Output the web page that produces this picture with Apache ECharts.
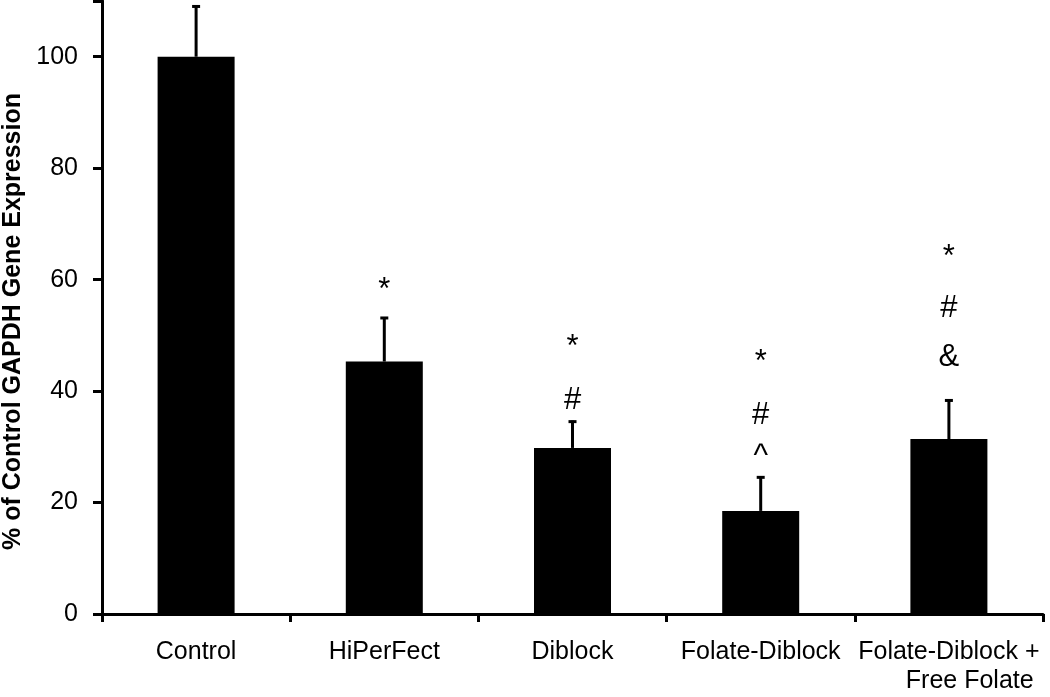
<!DOCTYPE html>
<html>
<head>
<meta charset="utf-8">
<script src="https://cdn.jsdelivr.net/npm/echarts@6/dist/echarts.min.js"></script>
<style>
  html, body { margin: 0; padding: 0; background: #fff; }
  #chart { width: 1050px; height: 697px; }
</style>
</head>
<body>
<div id="chart"></div>
<script>
  // groups on the x axis
  var categories = ['Control', 'HiPerFect', 'Diblock', 'Folate-Diblock', 'Folate-Diblock +\nFree Folate'];
  // % of control GAPDH expression, and the upper error (SD)
  var expression = [100, 45.3, 29.8, 18.5, 31.4];
  var errorUp = [9.2, 8.0, 4.9, 6.2, 7.1];
  // significance marks: category index, symbol, height on the y scale
  var markCategory = [1, 2, 2, 3, 3, 3, 4, 4, 4];
  var markSymbol = ['*', '*', '#', '*', '#', '^', '*', '#', '&'];
  var markValue = [58.0, 47.8, 38.4, 45.1, 35.7, 28.2, 63.9, 54.9, 46.1];
  var yTicks = [0, 20, 40, 60, 80, 100];

  var font = '"Liberation Sans", Arial, sans-serif';
  var chart = echarts.init(document.getElementById('chart'));

  var errData = expression.map(function (v, i) { return [i, v, v + errorUp[i]]; });
  var markData = markCategory.map(function (c, i) { return [c, markValue[i], markSymbol[i]]; });

  chart.setOption({
    animation: false,
    grid: { left: 102, right: 7, top: 1, bottom: 83, outerBoundsMode: 'none', containLabel: false },
    xAxis: {
      type: 'category',
      data: categories,
      axisLine: { lineStyle: { color: '#000', width: 3 } },
      axisTick: { show: true, length: 8, lineStyle: { color: '#000', width: 3 } },
      axisLabel: {
        color: '#000', fontFamily: font, fontSize: 25, margin: 24, lineHeight: 29,
        interval: 0,
        formatter: function (v) { return v.replace('\n', '\n      '); }
      }
    },
    yAxis: {
      type: 'value',
      min: 0, max: 110, interval: 20,
      name: '% of Control GAPDH Gene Expression',
      nameLocation: 'middle',
      nameGap: 75,
      nameTextStyle: { color: '#000', fontFamily: font, fontSize: 25, fontWeight: 'bold', padding: [0, 28, 0, 0] },
      axisLine: { show: true, lineStyle: { color: '#000', width: 3 } },
      axisTick: { show: true, length: 9, lineStyle: { color: '#000', width: 3 } },
      axisLabel: {
        color: '#000', fontFamily: font, fontSize: 25, margin: 24,
        formatter: function (v) { return yTicks.indexOf(v) >= 0 ? v : ''; }
      },
      splitLine: { show: false }
    },
    series: [
      {
        type: 'bar',
        data: expression,
        barWidth: 77,
        itemStyle: { color: '#000' }
      },
      {
        type: 'custom',
        data: errData,
        z: 3,
        renderItem: function (params, api) {
          var base = api.coord([api.value(0), api.value(1)]);
          var top = api.coord([api.value(0), api.value(2)]);
          return {
            type: 'group',
            children: [
              { type: 'line', shape: { x1: base[0], y1: base[1], x2: top[0], y2: top[1] },
                style: { stroke: '#000', lineWidth: 3 } },
              { type: 'line', shape: { x1: top[0] - 4, y1: top[1] + 1, x2: top[0] + 4, y2: top[1] + 1 },
                style: { stroke: '#000', lineWidth: 3 } }
            ]
          };
        }
      },
      {
        type: 'scatter',
        data: markData,
        symbolSize: 0,
        itemStyle: { opacity: 1 },
        label: {
          show: true, position: 'inside',
          color: '#000', opacity: 1, fontFamily: font, fontSize: 31,
          formatter: function (p) { return p.value[2]; }
        }
      }
    ]
  });
</script>
</body>
</html>
